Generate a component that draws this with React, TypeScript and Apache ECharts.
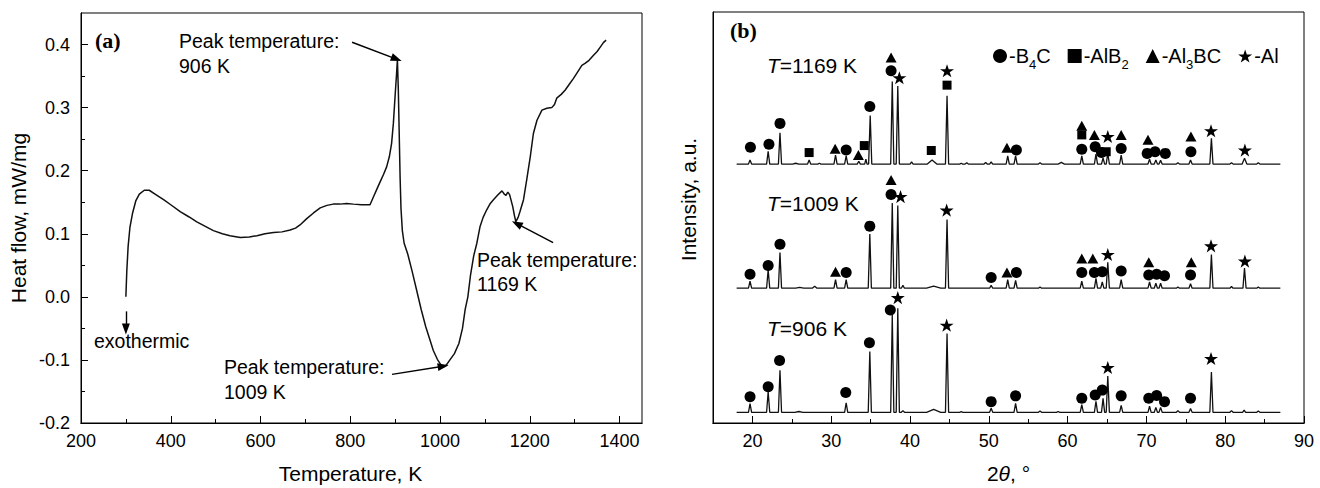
import React, { useEffect, useRef } from "react";
import * as echarts from "echarts";

// ---------------- Panel (a): DSC curve ----------------
const dscTemperature = [
  300, 302, 305, 309, 315, 322, 330, 341, 352, 365, 384, 400, 421, 440, 458, 476, 495, 515, 532, 555,
  575, 592, 610, 629, 648, 666, 678, 688, 703, 718, 733, 748, 762, 777, 792, 807, 825, 844, 852, 860,
  867, 874, 881, 887, 892, 896, 900, 903, 905, 907, 909, 911, 913, 916, 920, 928, 938, 948, 958, 968,
  976, 985, 994, 1002, 1008, 1014, 1022, 1032, 1042, 1050, 1056, 1062, 1068, 1075, 1082, 1089, 1096, 1104, 1112, 1119,
  1128, 1138, 1143, 1147, 1151, 1155, 1162, 1166, 1169, 1174, 1178, 1186, 1193, 1201, 1208, 1216, 1227, 1238, 1249, 1255,
  1260, 1270, 1279, 1288, 1297, 1306, 1316, 1323, 1332, 1342, 1350, 1357, 1364, 1370,
];
const dscHeatFlow = [
  0.0, 0.04, 0.08, 0.11, 0.133, 0.152, 0.163, 0.169, 0.169, 0.163, 0.154, 0.146, 0.135, 0.127, 0.119, 0.112, 0.105, 0.1, 0.097, 0.094,
  0.095, 0.097, 0.1, 0.102, 0.103, 0.106, 0.109, 0.114, 0.124, 0.133, 0.141, 0.145, 0.147, 0.147, 0.148, 0.147, 0.146, 0.146, 0.159, 0.172,
  0.183, 0.194, 0.206, 0.222, 0.243, 0.275, 0.32, 0.352, 0.376, 0.33, 0.26, 0.19, 0.14, 0.105, 0.085, 0.068, 0.04, 0.01, -0.02, -0.047,
  -0.065, -0.085, -0.099, -0.108, -0.111, -0.108, -0.1, -0.09, -0.074, -0.05, -0.02, 0.0, 0.035, 0.065, 0.085, 0.111, 0.126, 0.138, 0.148, 0.154,
  0.161, 0.168, 0.163, 0.161, 0.166, 0.162, 0.143, 0.128, 0.119, 0.126, 0.135, 0.154, 0.185, 0.222, 0.259, 0.28, 0.296, 0.299, 0.3, 0.305,
  0.315, 0.321, 0.328, 0.337, 0.346, 0.356, 0.367, 0.37, 0.375, 0.383, 0.389, 0.396, 0.403, 0.407,
];
// arrows: [fromT, fromV, toT, toV]
const dscArrows = [
  [804, 0.4036, 903, 0.377],
  [1252, 0.086, 1171, 0.116],
  [893, -0.123, 1007, -0.11],
  [300, -0.023, 300, -0.051],
];
const tempMajorTicks = [200, 400, 600, 800, 1000, 1200, 1400];
const tempMinorTicks = [300, 500, 700, 900, 1100, 1300];
const heatMajorTicks = [-0.2, -0.1, 0.0, 0.1, 0.2, 0.3, 0.4];
const heatMinorTicks = [-0.15, -0.05, 0.05, 0.15, 0.25, 0.35];

// ---------------- Panel (b): XRD patterns ----------------
const thetaMajorTicks = [20, 30, 40, 50, 60, 70, 80, 90];
const thetaMinorTicks = [25, 35, 45, 55, 65, 75, 85];
const scanStart = 18;
const scanEnd = 87;
const baseline906 = 2.6;
const baseline1009 = 32.8;
const baseline1169 = 63.0;
// peaks: [2theta, height, halfWidth?]
const peaks906 = [
  [19.7, 2.1], [22.0, 5.0], [23.5, 10.2], [25.9, 0.2, 0.5], [31.9, 2.3], [34.9, 14.8], [37.75, 23.8], [38.45, 25.3],
  [39.1, 0.4], [43.0, 0.7, 0.9], [44.7, 19.2], [46.5, 0.15], [50.3, 1.0], [53.4, 2.2], [56.5, 0.3], [58.8, 0.2],
  [61.8, 1.9], [63.6, 2.7], [64.5, 3.4], [65.1, 8.8], [66.8, 1.7], [70.4, 1.5], [71.2, 1.2], [71.8, 1.2],
  [74.0, 0.4], [75.6, 0.9], [78.25, 9.8], [80.8, 0.4], [82.4, 0.5], [84.2, 0.3],
];
const peaks1009 = [
  [19.7, 1.7], [22.0, 4.5], [23.5, 8.7], [26.0, 0.2, 0.5], [27.9, 0.5, 0.3], [30.55, 2.1], [31.9, 2.1], [34.9, 13.2],
  [37.75, 20.7], [38.45, 20.1], [39.1, 0.7], [43.0, 0.5, 0.9], [44.7, 16.7], [50.3, 0.7], [52.4, 2.1], [53.4, 1.9],
  [56.5, 0.3], [61.8, 1.7], [63.6, 2.4], [64.4, 1.5], [65.1, 6.3], [66.8, 2.1], [70.4, 1.5], [71.2, 1.2],
  [71.8, 1.2], [74.0, 0.3], [75.6, 1.1], [78.25, 8.2], [80.8, 0.4], [82.45, 4.9], [84.2, 0.3],
];
const peaks1169 = [
  [19.7, 1.0], [22.0, 3.1], [23.5, 7.6], [25.5, 0.2, 0.4], [27.2, 1.0], [28.5, 0.2], [30.55, 2.2], [31.9, 2.0],
  [33.5, 0.7], [34.4, 1.2, 0.15], [34.95, 11.8], [37.75, 20.1], [38.45, 19.0], [40.2, 0.5], [42.8, 1.0, 0.6],
  [44.7, 16.6], [46.5, 0.2], [47.2, 0.3], [49.6, 0.4], [50.3, 0.5], [52.4, 2.0], [53.4, 2.0], [56.5, 0.3],
  [59.2, 0.4, 0.4], [61.8, 2.0], [63.6, 2.4], [64.5, 1.5], [65.1, 2.7], [66.8, 2.2], [70.4, 1.2], [71.2, 1.0],
  [71.8, 0.9], [74.0, 0.3], [75.6, 1.0], [78.25, 6.3], [80.8, 0.3], [82.45, 1.4, 0.3], [84.2, 0.3],
];
// phase markers [2theta, y]
const markersB4C = [
  [19.7, 6.4], [22.0, 8.8], [23.45, 15.2], [31.85, 7.4], [34.85, 19.5], [37.5, 27.5], [50.3, 5.2], [53.4, 6.6],
  [61.8, 6.0], [63.5, 6.8], [64.4, 8.0], [66.8, 6.6], [70.3, 6.0], [71.3, 6.7], [72.3, 5.2], [75.6, 6.0],
  [19.7, 36.2], [22.0, 38.3], [23.5, 43.5], [31.9, 36.6], [34.9, 47.9], [37.6, 55.6], [50.3, 35.4], [53.5, 36.6],
  [61.8, 36.6], [63.4, 36.6], [64.4, 36.8], [66.8, 37.0], [70.3, 36.0], [71.3, 36.2], [72.3, 35.8], [75.6, 36.0],
  [19.75, 67.1], [22.1, 67.8], [23.5, 72.9], [31.9, 66.4], [34.9, 77.0], [37.6, 85.7], [53.5, 66.4], [61.8, 66.6],
  [63.5, 67.2], [64.3, 65.8], [66.8, 66.8], [70.1, 65.6], [71.1, 66.0], [72.4, 65.6], [75.65, 66.0],
];
const markersAlB2 = [
  [27.2, 65.8], [34.2, 67.5], [42.7, 66.3], [44.7, 82.2], [61.8, 70.1], [64.9, 66.0],
];
const markersAl3BC = [
  [30.55, 36.8], [37.6, 59.1], [52.3, 36.6], [61.8, 40.0], [63.2, 40.0], [70.3, 39.1], [75.7, 39.1],
  [30.5, 66.7], [33.45, 65.2], [37.6, 88.9], [52.3, 67.0], [61.8, 72.3], [63.4, 70.1], [66.8, 70.1], [70.2, 68.9], [75.65, 69.7],
];
const markersAl = [
  [38.45, 30.5], [44.65, 23.8], [65.1, 13.5], [78.2, 15.7],
  [38.8, 55.1], [44.65, 51.8], [65.1, 41.0], [78.2, 43.1], [82.5, 39.4],
  [38.65, 84.0], [44.7, 85.7], [65.1, 69.7], [78.2, 71.1], [82.5, 66.4],
];
const phaseNames = ["B4C", "AlB2", "Al3BC", "Al"];
const phaseLegendText: Record<string, string> = {
  B4C: "-B{s|4}C",
  AlB2: "-AlB{s|2}",
  Al3BC: "-Al{s|3}BC",
  Al: "-Al",
};

const FONT = "'Liberation Sans', Arial, Helvetica, sans-serif";
const SERIF = "'Liberation Serif', 'Times New Roman', serif";
const STAR = "path://M50,0 L61.8,35.1 L98.8,35.1 L68.9,56.9 L80.3,91.9 L50,70.1 L19.7,91.9 L31.1,56.9 L1.2,35.1 L38.2,35.1 Z";

function buildPattern(base: number, peaks: number[][]) {
  const pts: number[][] = [[scanStart, base]];
  for (const pk of peaks) {
    const p = pk[0];
    const h = pk[1];
    const w = pk[2] ?? 0.2;
    pts.push([p - w, base], [p, base + h], [p + w, base]);
  }
  pts.push([scanEnd, base]);
  return pts;
}

function buildOption(): any {
  const black = "#000";
  const axisLine = { show: true, onZero: false, lineStyle: { color: black, width: 1 } };
  const tickLabel = { fontSize: 18, color: black, fontFamily: FONT };
  const nameStyle = { fontSize: 21, color: black, fontFamily: FONT };

  const lineSeries = (name: string, data: number[][]) => ({
    name,
    type: "line",
    xAxisIndex: 2,
    yAxisIndex: 2,
    data,
    showSymbol: false,
    symbol: "none",
    lineStyle: { color: "#111", width: 1.3 },
    z: 2,
  });

  const markerSeries = (name: string, data: number[][], symbol: string, size: any) => ({
    name,
    type: "scatter",
    xAxisIndex: 2,
    yAxisIndex: 2,
    data,
    symbol,
    symbolSize: size,
    symbolKeepAspect: true,
    itemStyle: { color: black, opacity: 1 },
    z: 5,
  });

  return {
    animation: false,
    backgroundColor: "#fff",
    textStyle: { fontFamily: FONT },
    grid: [
      { left: 81, top: 13, width: 561, height: 410, show: true, borderColor: black, borderWidth: 1, outerBoundsMode: "none" },
      { left: 713, top: 12, width: 591, height: 411, show: true, borderColor: black, borderWidth: 1, outerBoundsMode: "none" },
    ],
    legend: {
      show: true,
      data: phaseNames,
      left: 988,
      top: 36,
      itemWidth: 14,
      itemHeight: 14,
      itemGap: 17,
      selectedMode: false,
      formatter: (n: string) => phaseLegendText[n],
      textStyle: {
        fontSize: 20,
        color: black,
        fontFamily: FONT,
        lineHeight: 30,
        padding: [0, 0, 0, -3],
        rich: {
          s: { fontSize: 13, color: black, fontFamily: FONT, verticalAlign: "bottom", lineHeight: 13 },
        },
      },
    },
    xAxis: [
      {
        gridIndex: 0, type: "value", position: "bottom", min: 200, max: 1450,
        axisLine, splitLine: { show: false },
        axisTick: { show: true, inside: true, length: 7, customValues: tempMajorTicks, lineStyle: { color: black } },
        axisLabel: { ...tickLabel, margin: 9, customValues: tempMajorTicks, formatter: (v: number) => String(v) },
        name: "Temperature, K", nameLocation: "middle", nameGap: 40,
        nameTextStyle: { ...nameStyle, padding: [0, 22, 0, 0] },
      },
      {
        gridIndex: 0, type: "value", position: "bottom", min: 200, max: 1450,
        axisLine, splitLine: { show: false },
        axisTick: { show: true, inside: true, length: 4, customValues: tempMinorTicks, lineStyle: { color: black } },
        axisLabel: { show: false },
      },
      {
        gridIndex: 1, type: "value", position: "bottom", min: 15, max: 90,
        axisLine, splitLine: { show: false },
        axisTick: { show: true, inside: true, length: 7, customValues: thetaMajorTicks, lineStyle: { color: black } },
        axisLabel: { ...tickLabel, margin: 9, customValues: thetaMajorTicks, formatter: (v: number) => String(v) },
        name: "2{i|θ}, °", nameLocation: "middle", nameGap: 40,
        nameTextStyle: { ...nameStyle, rich: { i: { fontStyle: "italic", fontSize: 21, fontFamily: FONT, color: black } } },
      },
      {
        gridIndex: 1, type: "value", position: "bottom", min: 15, max: 90,
        axisLine, splitLine: { show: false },
        axisTick: { show: true, inside: true, length: 4, customValues: thetaMinorTicks, lineStyle: { color: black } },
        axisLabel: { show: false },
      },
    ],
    yAxis: [
      {
        gridIndex: 0, type: "value", position: "left", min: -0.2, max: 0.45,
        axisLine, splitLine: { show: false },
        axisTick: { show: true, inside: true, length: 7, customValues: heatMajorTicks, lineStyle: { color: black } },
        axisLabel: { ...tickLabel, margin: 11, customValues: heatMajorTicks, formatter: (v: number) => v.toFixed(1) },
        name: "Heat flow, mW/mg", nameLocation: "middle", nameGap: 52, nameTextStyle: nameStyle,
      },
      {
        gridIndex: 0, type: "value", position: "left", min: -0.2, max: 0.45,
        axisLine, splitLine: { show: false },
        axisTick: { show: true, inside: true, length: 4, customValues: heatMinorTicks, lineStyle: { color: black } },
        axisLabel: { show: false },
      },
      {
        gridIndex: 1, type: "value", position: "left", min: 0, max: 100,
        axisLine, splitLine: { show: false },
        axisTick: { show: false },
        axisLabel: { show: false },
        name: "Intensity, a.u.", nameLocation: "middle", nameGap: 14,
        nameTextStyle: { ...nameStyle, padding: [0, 0, 0, 36] },
      },
    ],
    series: [
      {
        name: "DSC",
        type: "line",
        xAxisIndex: 0,
        yAxisIndex: 0,
        data: dscTemperature.map((t, i) => [t, dscHeatFlow[i]]),
        showSymbol: false,
        symbol: "none",
        lineStyle: { color: "#111", width: 1.5 },
        markLine: {
          silent: true,
          symbol: ["none", "triangle"],
          symbolSize: [8, 11],
          label: { show: false },
          lineStyle: { color: black, width: 1.4, type: "solid" },
          data: dscArrows.map((a) => [{ coord: [a[0], a[1]] }, { coord: [a[2], a[3]] }]),
        },
      },
      lineSeries("906 K", buildPattern(baseline906, peaks906)),
      lineSeries("1009 K", buildPattern(baseline1009, peaks1009)),
      lineSeries("1169 K", buildPattern(baseline1169, peaks1169)),
      markerSeries("B4C", markersB4C, "circle", 11),
      markerSeries("AlB2", markersAlB2, "rect", 9),
      markerSeries("Al3BC", markersAl3BC, "triangle", [11, 10]),
      markerSeries("Al", markersAl, STAR, 14),
    ],
    graphic: [
      { type: "text", x: 95, y: 40, style: { text: "(a)", font: `bold 22px ${SERIF}`, fill: black, align: "left", verticalAlign: "middle" } },
      { type: "text", x: 730, y: 30, style: { text: "(b)", font: `bold 22px ${SERIF}`, fill: black, align: "left", verticalAlign: "middle" } },
      { type: "text", x: 179, y: 53.5, style: { text: "Peak temperature:\n906 K", fontSize: 19.5, fontFamily: FONT, lineHeight: 25, fill: black, align: "left", verticalAlign: "middle" } },
      { type: "text", x: 224, y: 379, style: { text: "Peak temperature:\n1009 K", fontSize: 19.5, fontFamily: FONT, lineHeight: 25, fill: black, align: "left", verticalAlign: "middle" } },
      { type: "text", x: 477, y: 271.5, style: { text: "Peak temperature:\n1169 K", fontSize: 19.5, fontFamily: FONT, lineHeight: 24, fill: black, align: "left", verticalAlign: "middle" } },
      { type: "text", x: 94, y: 341, style: { text: "exothermic", fontSize: 19.5, fontFamily: FONT, fill: black, align: "left", verticalAlign: "middle" } },
      ...[
        ["1169 K", 65],
        ["1009 K", 203],
        ["906 K", 328],
      ].map(([label, y]) => ({
        type: "text",
        x: 767,
        y: y as number,
        style: {
          text: `{i|T}=${label}`,
          fontSize: 21,
          fontFamily: FONT,
          fill: black,
          align: "left",
          verticalAlign: "middle",
          rich: { i: { fontStyle: "italic", fontSize: 21, fontFamily: FONT, fill: black } },
        },
      })),
    ],
  };
}

export default function App() {
  const ref = useRef<HTMLDivElement>(null);
  useEffect(() => {
    if (!ref.current) return;
    const chart = echarts.init(ref.current, undefined, { renderer: "svg" });
    chart.setOption(buildOption());
    return () => chart.dispose();
  }, []);
  return <div ref={ref} style={{ position: "absolute", left: 0, top: 0, width: 1320, height: 488 }} />;
}
